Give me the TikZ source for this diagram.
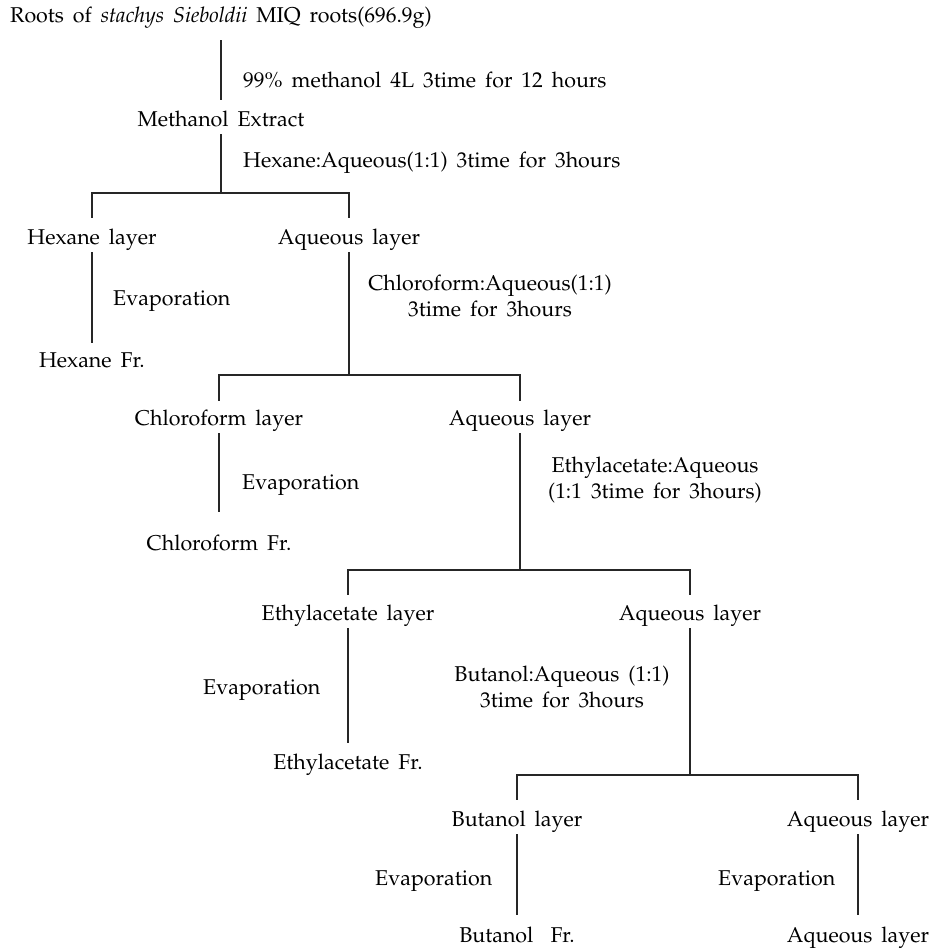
\documentclass[tikz,border=0pt]{standalone}
\usepackage[T1]{fontenc}
\usepackage{mathpazo}
\newcommand\lblfont{\fontsize{21.5}{27}\selectfont\spaceskip=0.42em plus 0.1em minus 0.05em\relax}
\begin{document}
\begin{tikzpicture}[x=1bp,y=-1bp,
  lbl/.style={font=\lblfont, inner xsep=0pt, inner ysep=3bp, text height=16bp, text depth=5bp, anchor=base},
  lblw/.style={lbl, anchor=base west},
  two/.style={font=\lblfont, align=center, inner sep=0pt},
  conn/.style={line width=1.1bp, draw=black!85}]
\useasboundingbox (0,0) rectangle (935,950);
% level 0
\node[lblw] (title) at (10,22) {Roots of \textit{stachys Sieboldii} MIQ roots(696.9g)};
\node[lblw] (c1) at (243,87) {99\% methanol 4L 3time for 12 hours};
\node[lbl] (mext) at (221,126) {Methanol Extract};
\node[lblw] (c2) at (243,167) {Hexane:Aqueous(1:1) 3time for 3hours};
\coordinate (top) at (221,40);
\coordinate (j1) at (221,193);
% level 1
\node[lbl] (hexl) at (92,244) {Hexane layer};
\node[lbl] (aq1) at (349,244) {Aqueous layer};
\node[lblw] (ev1) at (113,305) {Evaporation};
\node[lbl] (hexf) at (92,367) {Hexane Fr.};
\node[two] (c3) at (490,296) {Chloroform:Aqueous(1:1)\\3time for 3hours};
\coordinate (j2) at (349,375);
% level 2
\node[lbl] (chl) at (219,425) {Chloroform layer};
\node[lbl] (aq2) at (520,425) {Aqueous layer};
\node[lblw] (ev2) at (242,489) {Evaporation};
\node[lbl] (chlf) at (219,550) {Chloroform Fr.};
\node[two] (c4) at (655,480) {Ethylacetate:Aqueous\\(1:1 3time for 3hours)};
\coordinate (j3) at (520,570);
% level 3
\node[lbl] (ethl) at (348,620) {Ethylacetate layer};
\node[lbl] (aq3) at (690,620) {Aqueous layer};
\node[lblw] (ev3) at (203,694) {Evaporation};
\node[lbl] (ethf) at (348,769) {Ethylacetate Fr.};
\node[two] (c5) at (562,687) {Butanol:Aqueous (1:1)\\3time for 3hours};
\coordinate (j4) at (690,775);
% level 4
\node[lbl] (butl) at (517,826) {Butanol layer};
\node[lbl] (aq4) at (858,826) {Aqueous layer};
\node[lblw] (ev4) at (375,885) {Evaporation};
\node[lblw] (ev5) at (718,885) {Evaporation};
\node[lbl] (butf) at (517,942) {Butanol\hspace{0.8em}Fr.};
\node[lbl] (aq5) at (858,942) {Aqueous layer};
% connectors
\draw[conn, shorten >=7bp] (top) -- (mext.north);
\draw[conn] (mext.south) -- (j1);
\draw[conn, shorten <=7bp, shorten >=7bp] (hexl.north) -- (hexl.north |- j1) -- (aq1.north |- j1) -- (aq1.north);
\draw[conn, shorten >=5bp] (hexl.south) -- (hexf.north);
\draw[conn] (aq1.south) -- (j2);
\draw[conn, shorten <=5bp, shorten >=5bp] (chl.north) -- (chl.north |- j2) -- (aq2.north |- j2) -- (aq2.north);
\draw[conn, shorten >=19bp] (chl.south) -- (chlf.north);
\draw[conn] (aq2.south) -- (j3);
\draw[conn, shorten <=6bp, shorten >=6bp] (ethl.north) -- (ethl.north |- j3) -- (aq3.north |- j3) -- (aq3.north);
\draw[conn, shorten >=7bp] (ethl.south) -- (ethf.north);
\draw[conn] (aq3.south) -- (j4);
\draw[conn, shorten <=7bp, shorten >=7bp] (butl.north) -- (butl.north |- j4) -- (aq4.north |- j4) -- (aq4.north);
\draw[conn, shorten >=8bp] (butl.south) -- (butf.north);
\draw[conn, shorten >=8bp] (aq4.south) -- (aq5.north);
\end{tikzpicture}
\end{document}
